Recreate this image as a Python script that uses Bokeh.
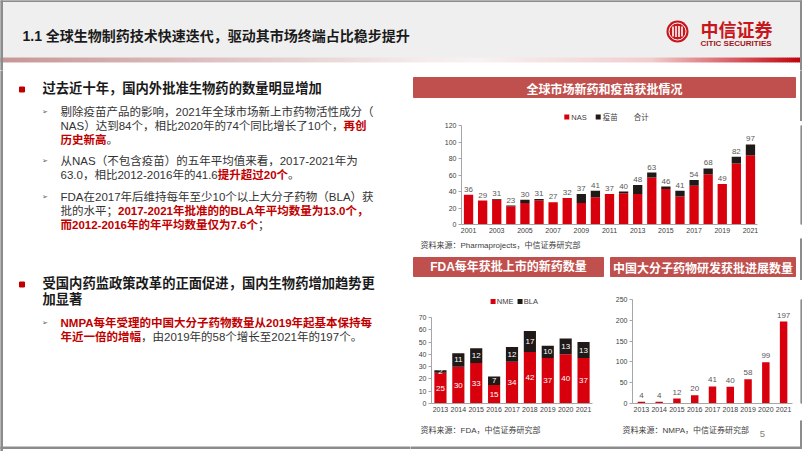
import numpy as np
from bokeh.plotting import figure
from bokeh.models import Range1d, FixedTicker, ColumnDataSource
from bokeh.layouts import row, column
from bokeh.core.properties import value
from bokeh.embed import file_html
from bokeh.resources import INLINE

# ---------------- data ----------------
c1_years = [2001, 2002, 2003, 2004, 2005, 2006, 2007, 2008, 2009, 2010, 2011,
            2012, 2013, 2014, 2015, 2016, 2017, 2018, 2019, 2020, 2021]
c1_nas = [36, 29, 30, 22, 26, 29, 27, 32, 26, 33, 37,
          38, 37, 57, 43, 34, 47, 61, 49, 74, 84]
c1_vaccine = [0, 0, 1, 1, 4, 2, 0, 0, 11, 8, 0,
              2, 11, 6, 3, 7, 7, 7, 0, 8, 13]
c1_total = [36, 29, 31, 23, 30, 31, 27, 32, 37, 41, 37,
            40, 48, 63, 46, 41, 54, 68, 49, 82, 97]
c1_xticks = [2001, 2003, 2005, 2007, 2009, 2011, 2013, 2015, 2017, 2019, 2021]
c1_yticks = [0, 20, 40, 60, 80, 100, 120]
c1_series = ["NAS", "疫苗", "合计"]

c2_years = ["2013", "2014", "2015", "2016", "2017", "2018", "2019", "2020", "2021"]
c2_nme = [25, 30, 33, 15, 34, 42, 37, 40, 37]
c2_bla = [2, 11, 12, 7, 12, 17, 10, 13, 13]
c2_yticks = [0, 10, 20, 30, 40, 50, 60, 70]
c2_series = ["NME", "BLA"]

c3_years = ["2013", "2014", "2015", "2016", "2017", "2018", "2019", "2020", "2021"]
c3_count = [4, 4, 12, 20, 41, 40, 58, 99, 197]
c3_yticks = [0, 50, 100, 150, 200, 250]

# ---------------- texts ----------------
title_text = "1.1 全球生物制药技术快速迭代，驱动其市场终端占比稳步提升"
c1_title = "全球市场新药和疫苗获批情况"
c2_title = "FDA每年获批上市的新药数量"
c3_title = "中国大分子药物研发获批进展数量"
c1_source = "资料来源：Pharmaprojects，中信证券研究部"
c2_source = "资料来源：FDA，中信证券研究部"
c3_source = "资料来源：NMPA，中信证券研究部"

heading1 = ["过去近十年，国内外批准生物药的数量明显增加"]
heading2 = ["受国内药监政策改革的正面促进，国内生物药增加趋势更", "加显著"]
# each line: list of (text, style) ; style n = normal dark, r = red bold
block1 = [
    [("剔除疫苗产品的影响，2021年全球市场新上市药物活性成分（", "n")],
    [("NAS）达到84个，相比2020年的74个同比增长了10个，", "n"), ("再创", "r")],
    [("历史新高", "r"), ("。", "n")],
    [("从NAS（不包含疫苗）的五年平均值来看，2017-2021年为", "n")],
    [("63.0，相比2012-2016年的41.6", "n"), ("提升超过20个", "r"), ("。", "n")],
    [("FDA在2017年后维持每年至少10个以上大分子药物（BLA）获", "n")],
    [("批的水平；", "n"), ("2017-2021年批准的的BLA年平均数量为13.0个，", "r")],
    [("而2012-2016年的年平均数量仅为7.6个", "r"), ("；", "n")],
]
block2 = [
    [("NMPA每年受理的中国大分子药物数量从2019年起基本保持每", "r")],
    [("年近一倍的增幅", "r"), ("，由2019年的58个增长至2021年的197个。", "n")],
]

# ---------------- style ----------------
RED = "#d9000d"
BLACK = "#1f1a18"
HDR = "#c0504d"
BORDER = "#8c8c8c"
TXT = "#333333"
RTXT = "#c00000"
CJK = "Noto Sans CJK SC"
MIX = "Liberation Sans, Noto Sans CJK SC"

AR = {".": 0.278, "-": 0.333, " ": 0.278, "A": 0.667, "B": 0.667, "C": 0.722,
      "D": 0.722, "E": 0.667, "F": 0.611, "L": 0.556, "M": 0.833, "N": 0.722,
      "P": 0.667, "S": 0.667}


def tw(s, size):
    w = 0.0
    for ch in s:
        if ch in AR:
            w += AR[ch]
        elif ord(ch) < 128:
            w += 0.556
        else:
            w += 1.0
    return w * size


def canvas(w, h):
    p = figure(width=w, height=h, x_range=Range1d(0, w), y_range=Range1d(h, 0),
               toolbar_location=None, output_backend="svg", min_border=0, title=None,
               x_axis_location=None, y_axis_location=None, outline_line_color=None,
               background_fill_color="white", border_fill_color="white")
    p.grid.visible = False
    return p


def txt(p, x, y, s, size, color, font=MIX, bold=False, align="left", baseline="middle"):
    p.text(x=[x], y=[y], text=[s], text_font=value(font), text_font_size=value(f"{size}px"),
           text_color=color, text_align=align, text_baseline=baseline,
           text_font_style="bold" if bold else "normal")


def style_axes(p):
    for ax in p.axis:
        ax.axis_line_color = "#a6a6a6"
        ax.major_tick_line_color = "#a6a6a6"
        ax.minor_tick_line_color = None
        ax.major_label_text_font_size = "7px"
        ax.major_label_text_font = "Liberation Sans"
        ax.major_label_text_color = "#404040"
        ax.major_tick_in = 0
        ax.major_tick_out = 3
        ax.major_label_standoff = 2
    p.xaxis.major_tick_line_color = None
    p.xaxis.major_tick_out = 0
    p.xaxis.major_label_standoff = 3
    p.grid.visible = False


def chart(w, h, xr, yr, left, right, top, bottom_):
    return figure(frame_width=w - left - right, frame_height=h - top - bottom_,
                  x_range=xr, y_range=yr, title=None,
                  toolbar_location=None, output_backend="svg",
                  min_border_left=left, min_border_right=right,
                  min_border_top=top, min_border_bottom=bottom_,
                  outline_line_color=None, border_fill_color="white")


def legend(p, xc, y, labels, colors, size=7.5, gap=9):
    """Legend centred at xc: swatch + label per series; colour None = invisible swatch."""
    widths = [7 + tw(lab, size) for lab in labels]
    x = xc - (sum(widths) + gap * (len(labels) - 1)) / 2.0
    for lab, col, w in zip(labels, colors, widths):
        if col is not None:
            p.scatter(x=[x + 2.5], y=[y], marker="square", size=5, fill_color=col, line_color=None)
        txt(p, x + 7, y, lab, size, "#404040")
        x += w + gap


def right_border(p, h):
    p.quad(left=[390], right=[392], top=[0], bottom=[h], color=BORDER)


def thin(h):
    p = canvas(2, h)
    p.quad(left=[0], right=[2], top=[0], bottom=[h], color=BORDER)
    return p


# ---------------- header ----------------
H = canvas(802, 70)
H.quad(left=[0], right=[802], top=[0], bottom=[57.5], color="#efefef")
stops = [(0, (200, 150, 150)), (430, (246, 238, 238)), (480, (248, 242, 242)),
         (650, (242, 205, 205)), (802, (192, 0, 10))]
gx = np.arange(0, 802, 2)
cols = []
for xx in gx:
    for (a, ca), (b, cb) in zip(stops[:-1], stops[1:]):
        if a <= xx <= b:
            t = (xx - a) / (b - a)
            c = [int(ca[k] + (cb[k] - ca[k]) * t) for k in range(3)]
            cols.append("#%02x%02x%02x" % tuple(c))
            break
H.quad(left=gx, right=gx + 2, top=57.5, bottom=61.5, color=cols)
H.quad(left=[0, 800, 0], right=[2, 802, 802], top=[0, 0, 0], bottom=[70, 70, 1], color=BORDER)
txt(H, 22, 35, title_text, 14, "#1a1a1a", bold=True)
# logo
H.scatter(x=[677], y=[31], size=22, marker="circle", fill_color="#c8161d", line_color=None)
H.scatter(x=[677], y=[31], size=17, marker="circle", fill_color=None, line_color="white", line_width=1)
H.segment(x0=[672.5, 675.5, 678.5, 681.5], y0=[26, 25.5, 25.5, 26], x1=[672.5, 675.5, 678.5, 681.5],
          y1=[36, 36.5, 36.5, 36], line_color="white", line_width=1.6)
txt(H, 700, 28, "中信证券", 18, "#c8161d", font=CJK, bold=True)
txt(H, 700, 42.5, "CITIC SECURITIES", 8, "#a0141c", font="Liberation Sans", bold=True)

# ---------------- left text ----------------
L = canvas(410, 381)
L.quad(left=[0, 0], right=[2, 410], top=[0, 376.5], bottom=[381, 378], color=BORDER)
L.scatter(x=[21.5, 21.5], y=[19, 214], marker="square", size=5, color="#c00000")
txt(L, 42, 18.3, heading1[0], 13.3, "#1a1a1a", bold=True)
txt(L, 42, 213, heading2[0], 13.3, "#1a1a1a", bold=True)
txt(L, 42, 229, heading2[1], 13.3, "#1a1a1a", bold=True)

b1_y = [41.6, 55.3, 69.0, 90.6, 104.3, 126.7, 140.4, 154.1]
b2_y = [252, 266]
arrow_y = [41.6, 90.6, 126.7, 252]
L.text(x=[44.5] * 4, y=arrow_y, text=["➢"] * 4, text_font=value("DejaVu Sans"),
       text_font_size=value("7px"), text_color="#595959", text_align="center",
       text_baseline="middle")
FS = 11.5
for lines, ys in ((block1, b1_y), (block2, b2_y)):
    for segs, yy in zip(lines, ys):
        x = 60.0
        for s, st in segs:
            if st == "r":
                txt(L, x, yy, s, FS, RTXT, bold=True)
            else:
                txt(L, x, yy, s, FS, TXT)
            x += tw(s, FS)

# ---------------- right column ----------------
head1 = canvas(392, 51)
head1.quad(left=[3], right=[385], top=[7], bottom=[27], color=HDR)
txt(head1, 194, 17.5, c1_title, 12, "white", font=CJK, bold=True, align="center")
legend(head1, 196, 46.5, c1_series, [RED, BLACK, None])
right_border(head1, 51)

# chart 1
src1 = ColumnDataSource(dict(year=c1_years, nas=c1_nas, vac=c1_vaccine, total=c1_total,
                             label=[str(v) for v in c1_total]))
p1 = chart(390, 117, Range1d(2000.5, 2021.5), Range1d(0, 120), 51, 43, 4, 14)
p1.vbar_stack(["nas", "vac"], x="year", width=0.66, color=[RED, BLACK],
              line_color=None, source=src1)
p1.vbar(x="year", top="total", width=0.66, fill_alpha=0, line_alpha=0, source=src1)
p1.text(x="year", y="total", text="label", source=src1, text_align="center",
        text_baseline="bottom", y_offset=-3, text_font=value("Liberation Sans"),
        text_font_size=value("8px"), text_color="#595959")
p1.xaxis.ticker = FixedTicker(ticks=c1_xticks)
p1.yaxis.ticker = FixedTicker(ticks=c1_yticks)
style_axes(p1)

mid = canvas(392, 42)
txt(mid, 10, 6.5, c1_source, 8, "#404040")
mid.quad(left=[3, 200], right=[193, 385], top=[19, 19], bottom=[38, 38], color=HDR)
txt(mid, 98, 28.5, c2_title, 12, "white", bold=True, align="center")
txt(mid, 292.5, 28.5, c3_title, 12, "white", font=CJK, bold=True, align="center")
right_border(mid, 42)

# chart 2
leg2 = canvas(195, 30)
legend(leg2, 99, 21, c2_series, [RED, BLACK])

nme = np.array(c2_nme)
bla = np.array(c2_bla)
src2 = ColumnDataSource(dict(year=c2_years, nme=c2_nme, bla=c2_bla,
                             nme_mid=nme / 2.0, bla_mid=nme + bla / 2.0,
                             nme_lab=[str(v) for v in c2_nme], bla_lab=[str(v) for v in c2_bla]))
p2 = chart(195, 110, c2_years, Range1d(0, 70), 21, 13, 7, 17)
p2.vbar_stack(["nme", "bla"], x="year", width=0.68, color=[RED, BLACK],
              line_color=None, source=src2)
for col, lab in (("nme_mid", "nme_lab"), ("bla_mid", "bla_lab")):
    p2.text(x="year", y=col, text=lab, source=src2, text_align="center", text_baseline="middle",
            text_font=value("Liberation Sans"), text_font_size=value("8px"), text_color="white")
p2.yaxis.ticker = FixedTicker(ticks=c2_yticks)
style_axes(p2)

# chart 3
src3 = ColumnDataSource(dict(year=c3_years, cnt=c3_count, lab=[str(v) for v in c3_count]))
p3 = chart(195, 140, c3_years, Range1d(0, 250), 27, 8, 19, 17)
p3.vbar(x="year", top="cnt", width=0.42, color=RED, line_color=None, source=src3)
p3.text(x="year", y="cnt", text="lab", source=src3, text_align="center", text_baseline="bottom",
        y_offset=-4, text_font=value("Liberation Sans"), text_font_size=value("8px"),
        text_color="#595959")
p3.yaxis.ticker = FixedTicker(ticks=c3_yticks)
style_axes(p3)

bottom = canvas(392, 31)
txt(bottom, 10, 10, c2_source, 8, "#404040")
txt(bottom, 212, 10, c3_source, 8, "#404040")
txt(bottom, 352, 13, "5", 9.5, "#7f7f7f", font="Liberation Sans", align="center")
bottom.quad(left=[390, 0], right=[392, 392], top=[0, 26.5], bottom=[28, 28], color=BORDER)

right = column(head1, row(p1, thin(117), spacing=0), mid,
               row(column(leg2, p2, spacing=0), p3, thin(140), spacing=0), bottom, spacing=0)
page = column(H, row(L, right, spacing=0), spacing=0)

open("out.html", "w").write(file_html(page, INLINE))
